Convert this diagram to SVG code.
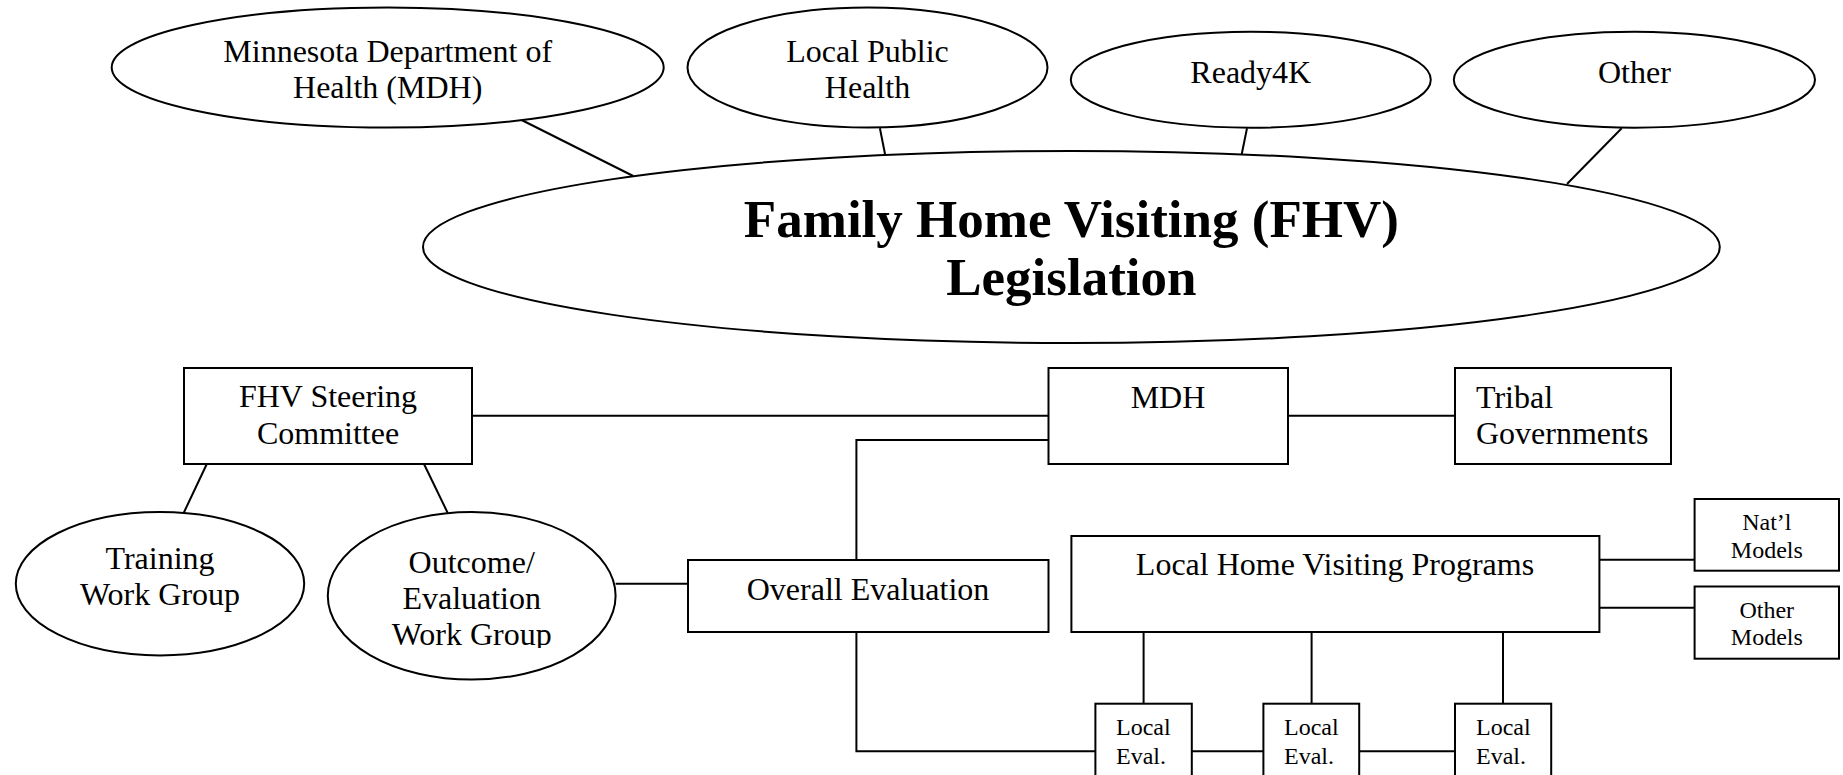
<svg xmlns="http://www.w3.org/2000/svg" width="1843" height="775" viewBox="0 0 1843 775">
<style>
.s{fill:#fff;stroke:#000;stroke-width:2}
.t{font-family:"Liberation Serif","Times New Roman",serif;font-size:32px;fill:#000;text-anchor:middle}
.l{text-anchor:start}
.sm{font-size:24px}
.b{font-weight:bold;font-size:53px}
#connectors line,#connectors polyline{stroke:#000;stroke-width:2;fill:none}
</style>
<defs>
<clipPath id="clipOut"><rect x="320" y="500" width="300" height="148"/></clipPath>
</defs>
<rect width="1843" height="775" fill="#fff"/>
<g id="connectors">
<line x1="521.6" y1="120" x2="633.2" y2="176"/>
<line x1="879.9" y1="128.3" x2="885.2" y2="155"/>
<line x1="1247" y1="128.3" x2="1241.7" y2="154.3"/>
<line x1="1621.7" y1="128.3" x2="1567" y2="184"/>
<line x1="472" y1="415.7" x2="1048" y2="415.7"/>
<line x1="1288" y1="415.7" x2="1455" y2="415.7"/>
<polyline points="1048,440 856.4,440 856.4,560"/>
<line x1="206.8" y1="464" x2="183.8" y2="512.7"/>
<line x1="424" y1="464" x2="447.6" y2="512.7"/>
<line x1="615.6" y1="583.7" x2="688" y2="583.7"/>
<polyline points="856.4,632 856.4,751.3 1095.4,751.3"/>
<line x1="1191.8" y1="751.3" x2="1263.4" y2="751.3"/>
<line x1="1359.2" y1="751.3" x2="1455" y2="751.3"/>
<line x1="1143.6" y1="632" x2="1143.6" y2="704"/>
<line x1="1311.6" y1="632" x2="1311.6" y2="704"/>
<line x1="1503" y1="632" x2="1503" y2="704"/>
<line x1="1599.4" y1="559.7" x2="1694.6" y2="559.7"/>
<line x1="1599.4" y1="607.7" x2="1694.6" y2="607.7"/>
</g>
<g id="mdh-ellipse">
<ellipse class="s" cx="387.7" cy="67.5" rx="276" ry="60"/>
<text class="t" x="387.7" y="62.3">Minnesota Department of</text>
<text class="t" x="387.7" y="98.3">Health (MDH)</text>
</g>
<g id="local-public-health">
<ellipse class="s" cx="867.5" cy="67.5" rx="180" ry="60"/>
<text class="t" x="867.5" y="62.3">Local Public</text>
<text class="t" x="867.5" y="98.3">Health</text>
</g>
<g id="ready4k">
<ellipse class="s" cx="1250.8" cy="79.7" rx="180" ry="48"/>
<text class="t" x="1250.8" y="83.3">Ready4K</text>
</g>
<g id="other">
<ellipse class="s" cx="1634.4" cy="79.7" rx="180.6" ry="48"/>
<text class="t" x="1634.4" y="83.3">Other</text>
</g>
<g id="fhv-legislation">
<ellipse class="s" cx="1071.4" cy="247" rx="648.4" ry="96"/>
<text class="t b" x="1071.4" y="237.3">Family Home Visiting (FHV)</text>
<text class="t b" x="1071.4" y="295">Legislation</text>
</g>
<g id="steering">
<rect class="s" x="184" y="368" width="288" height="96"/>
<text class="t" x="328" y="407">FHV Steering</text>
<text class="t" x="328" y="444.3">Committee</text>
</g>
<g id="mdh-box">
<rect class="s" x="1048.5" y="368" width="239.5" height="96"/>
<text class="t" x="1168" y="407.7">MDH</text>
</g>
<g id="tribal">
<rect class="s" x="1455" y="368" width="216" height="96"/>
<text class="t l" x="1476" y="407.7">Tribal</text>
<text class="t l" x="1476" y="444.3">Governments</text>
</g>
<g id="training">
<ellipse class="s" cx="160" cy="583.7" rx="144.2" ry="71.7"/>
<text class="t" x="160" y="568.7">Training</text>
<text class="t" x="160" y="605.3">Work Group</text>
</g>
<g id="outcome">
<ellipse class="s" cx="471.7" cy="595.8" rx="143.9" ry="83.8"/>
<text class="t" x="471.7" y="573">Outcome/</text>
<text class="t" x="471.7" y="608.7">Evaluation</text>
<text class="t" x="471.7" y="645.3" clip-path="url(#clipOut)">Work Group</text>
</g>
<g id="overall-evaluation">
<rect class="s" x="688" y="560" width="360.5" height="72"/>
<text class="t" x="868" y="599.7">Overall Evaluation</text>
</g>
<g id="local-hv-programs">
<rect class="s" x="1071.4" y="536" width="528" height="96"/>
<text class="t" x="1335" y="575.3">Local Home Visiting Programs</text>
</g>
<g id="natl-models">
<rect class="s" x="1694.6" y="499" width="144.4" height="71.7"/>
<text class="t sm" x="1766.8" y="530.3">Nat’l</text>
<text class="t sm" x="1766.8" y="558">Models</text>
</g>
<g id="other-models">
<rect class="s" x="1694.6" y="586.5" width="144.4" height="72.2"/>
<text class="t sm" x="1766.8" y="618">Other</text>
<text class="t sm" x="1766.8" y="645.3">Models</text>
</g>
<g id="local-eval-1">
<rect class="s" x="1095.4" y="703.7" width="96.4" height="96"/>
<text class="t sm l" x="1116" y="735.3">Local</text>
<text class="t sm l" x="1116" y="763.7">Eval.</text>
</g>
<g id="local-eval-2">
<rect class="s" x="1263.4" y="703.7" width="95.8" height="96"/>
<text class="t sm l" x="1284" y="735.3">Local</text>
<text class="t sm l" x="1284" y="763.7">Eval.</text>
</g>
<g id="local-eval-3">
<rect class="s" x="1455" y="703.7" width="96.2" height="96"/>
<text class="t sm l" x="1476" y="735.3">Local</text>
<text class="t sm l" x="1476" y="763.7">Eval.</text>
</g>
</svg>
